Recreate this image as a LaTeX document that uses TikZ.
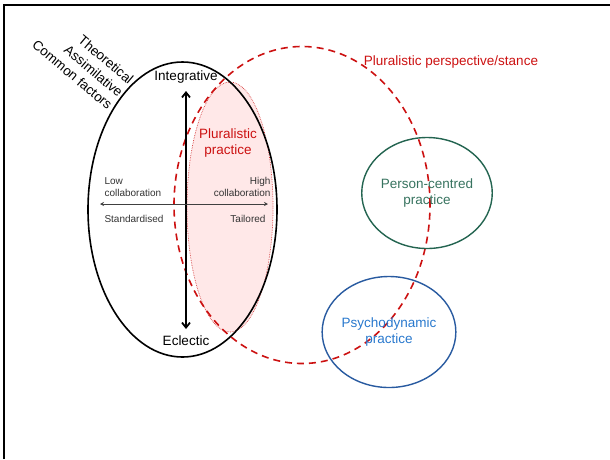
\documentclass[tikz,border=0pt]{standalone}
\usepackage{fontspec}
\setmainfont{Liberation Sans}
\usetikzlibrary{shapes.geometric,arrows.meta}
\definecolor{pred}{RGB}{204,17,17}
\definecolor{pgreen}{RGB}{35,100,80}
\definecolor{pgtext}{RGB}{55,115,95}
\definecolor{pblue}{RGB}{40,90,160}
\definecolor{pbtext}{RGB}{40,120,205}
\definecolor{ppink}{RGB}{255,232,232}
\tikzset{
  big/.style={font=\fontsize{13.5}{16.5}\selectfont},
  small/.style={font=\fontsize{10}{12}\selectfont, text=black!80},
  oval/.style={ellipse, inner sep=0pt, align=center},
}
\begin{document}
\begin{tikzpicture}[x=1pt,y=-1pt]
\useasboundingbox (0,0) rectangle (610,459);
% frame
\draw[line width=2.5pt] (4,459) -- (4,5) -- (610,5);
% pluralistic practice shaded ellipse
\node[oval, fill=ppink, draw=pred!80, densely dotted, line width=0.7pt,
      minimum width=86pt, minimum height=250pt] (pp) at (230,207) {};
% black ellipse
\node[oval, draw=black, line width=1.6pt, minimum width=189pt, minimum height=295pt] (ie) at (182.5,209.5) {};
% red dashed ellipse
\node[oval, draw=pred, dash pattern=on 7pt off 5pt, line width=1.6pt,
      minimum width=256pt, minimum height=317pt] (ps) at (302,205) {};
% person-centred
\node[oval, draw=pgreen, line width=1.4pt, minimum width=130pt, minimum height=111pt,
      big, text=pgtext] (pc) at (427,193) {Person-centred\\practice};
% psychodynamic
\node[oval, draw=pblue, line width=1.4pt, minimum width=131pt, minimum height=111pt,
      big, text=pbtext] (pd) at (389,332) {Psychodynamic\\practice};
% labels
\node[big] (integ) at (186,77) {Integrative};
\node[big] (eclec) at (186,341) {Eclectic};
\node[big, text=pred, align=center] (plp) at (228,143) {Pluralistic\\practice};
\node[big, text=pred] (pps) at (451,62) {Pluralistic perspective/stance};
\node[big, align=right, rotate=-40] (tac) at (83,62) {Theoretical\\Assimilative\\Common factors};
\node[small, align=left, anchor=west] (lowc) at (101,187) {Low\\collaboration};
\node[small, align=right, anchor=east] (highc) at (274,187) {High\\collaboration};
\node[small, anchor=west] (std) at (101,219) {Standardised};
\node[small, anchor=east] (tail) at (269,219) {Tailored};
% arrows
\coordinate (vtop) at (186,91);
\coordinate (vbot) at (186,329);
\draw[line width=1.8pt, {Straight Barb[length=5pt,width=8pt]}-{Straight Barb[length=5pt,width=8pt]}] (vtop) -- (vbot);
\coordinate (hl) at (100,204);
\coordinate (hr) at (268,204);
\draw[line width=0.8pt, black!75, {Stealth[length=4pt,width=4pt]}-{Stealth[length=4pt,width=4pt]}] (hl) -- (hr);
\end{tikzpicture}
\end{document}
